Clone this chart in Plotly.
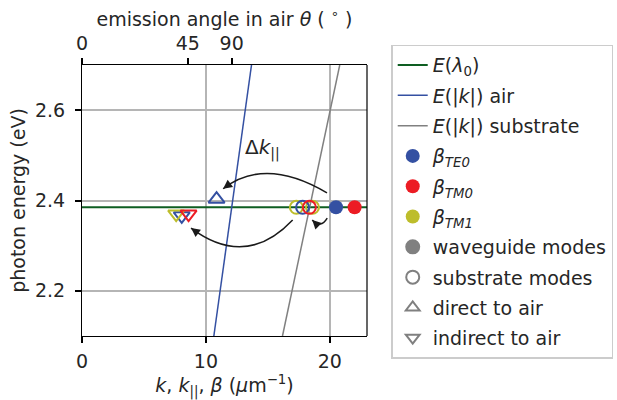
import plotly.graph_objects as go

# ---------------- data ----------------
E_range = [2.1, 2.7]                 # photon energy limits of dispersion lines (eV)
k_air = [10.64, 13.68]               # E(|k|) in air at E_range
k_sub = [16.18, 20.80]               # E(|k|) in substrate at E_range
E0 = 2.385                           # emission energy E(lambda0)
k_line = [0, 23]
k0 = 12.08                           # free-space wavevector (for top axis)

wg_TE0_k, wg_TM0_k = [20.5], [22.0]  # waveguide modes (filled)
wg_TM1_k = []                        # not visible
sub_TE0_k, sub_TM0_k, sub_TM1_k = [17.8], [18.35], [17.3, 18.6]   # substrate modes (open)
direct_TE0 = ([10.86], [2.403])      # direct to air (up triangle)
ind_TM1 = ([7.6], [2.370])           # indirect to air (down triangles)
ind_TE0 = ([8.05], [2.366])
ind_TM0 = ([8.6], [2.370])

top_ticks_deg = [0, 45, 90]
top_tickvals = [0, k0 * 0.7071, k0]

# curved arrows: (start, control, end) in data coords
arrows = [
    ((19.77, 2.417), (14.78, 2.498), (11.39, 2.426)),
    ((17.00, 2.357), (13.25, 2.248), (8.80, 2.339)),
    ((19.79, 2.361), (19.26, 2.337), (18.58, 2.357)),
]
arrow_tail_px = [(8, -6), (8, 6), (7, 7)]

GREEN = "#0e5e22"
BLUE = "#3450a2"
RED = "#ec1c24"
YEL = "#bdbd2b"
GRAY = "#808080"
TXT = "#262626"
FS = 19

fig = go.Figure()
# lines
fig.add_trace(go.Scatter(x=k_line, y=[E0, E0], mode="lines", line=dict(color=GREEN, width=2),
                         name="<i>E</i>(<i>λ</i><sub>0</sub>)", legendgroup="a"))
fig.add_trace(go.Scatter(x=k_air, y=E_range, mode="lines", line=dict(color=BLUE, width=1.5),
                         name="<i>E</i>(|<i>k</i>|) air", legendgroup="b"))
fig.add_trace(go.Scatter(x=k_sub, y=E_range, mode="lines", line=dict(color=GRAY, width=1.5),
                         name="<i>E</i>(|<i>k</i>|) substrate", legendgroup="c"))

# open (substrate) modes
for ks, col in [(sub_TM1_k, YEL), (sub_TE0_k, BLUE), (sub_TM0_k, RED)]:
    fig.add_trace(go.Scatter(x=ks, y=[E0] * len(ks), mode="markers", showlegend=False,
                             marker=dict(symbol="circle-open", size=13, color=col, line=dict(width=2))))
# triangles
fig.add_trace(go.Scatter(x=direct_TE0[0], y=direct_TE0[1], mode="markers", showlegend=False,
                         marker=dict(symbol="triangle-up-open", size=14, color=BLUE, line=dict(width=2))))
for (kx, ey), col in [(ind_TE0, BLUE), (ind_TM1, YEL), (ind_TM0, RED)]:
    fig.add_trace(go.Scatter(x=kx, y=ey, mode="markers", showlegend=False,
                             marker=dict(symbol="triangle-down-open", size=14, color=col, line=dict(width=2))))

# filled waveguide modes (legend)
for ks, col, nm, g in [(wg_TE0_k, BLUE, "<i>β</i><sub><i>TE0</i></sub>", "d"),
                       (wg_TM0_k, RED, "<i>β</i><sub><i>TM0</i></sub>", "e"),
                       (wg_TM1_k, YEL, "<i>β</i><sub><i>TM1</i></sub>", "f")]:
    fig.add_trace(go.Scatter(x=ks if ks else [None], y=[E0] * len(ks) if ks else [None],
                             mode="markers", name=nm, legendgroup=g,
                             marker=dict(symbol="circle", size=14, color=col)))

# legend-only gray entries
for sym, nm, g in [("circle", "waveguide modes", "g"), ("circle-open", "substrate modes", "h"),
                   ("triangle-up-open", "direct to air", "i"), ("triangle-down-open", "indirect to air", "j")]:
    fig.add_trace(go.Scatter(x=[None], y=[None], mode="markers", name=nm, legendgroup=g,
                             marker=dict(symbol=sym, size=12 if "triangle" in sym else 13, color=GRAY,
                                         line=dict(width=2, color=GRAY))))

# dummy for top axis
fig.add_trace(go.Scatter(x=[None], y=[None], xaxis="x2", showlegend=False))

# arrows
for (p0, c, p2), (tx, ty) in zip(arrows, arrow_tail_px):
    fig.add_shape(type="path", xref="x", yref="y",
                  path=f"M {p0[0]},{p0[1]} Q {c[0]},{c[1]} {p2[0]},{p2[1]}",
                  line=dict(color="#1a1a1a", width=1.5))
    fig.add_annotation(x=p2[0], y=p2[1], xref="x", yref="y", text="", showarrow=True,
                       ax=tx, ay=ty, arrowhead=2, arrowsize=1.2, arrowwidth=1.5, arrowcolor="#1a1a1a")

fig.add_annotation(x=14.6, y=2.516, xref="x", yref="y", text="Δ<i>k</i><sub>||</sub>",
                   showarrow=False, font=dict(size=20, color=TXT))

axis_common = dict(showline=True, linecolor="black", linewidth=1.2, mirror=False,
                   ticks="outside", ticklen=6, tickwidth=1.5, tickcolor="black",
                   tickfont=dict(size=FS, color=TXT), zeroline=False)

fig.update_layout(
    width=617, height=400,
    margin=dict(l=82, r=250, t=65, b=64, autoexpand=False),
    paper_bgcolor="white", plot_bgcolor="white",
    font=dict(family="DejaVu Sans", color=TXT, size=FS),
    xaxis=dict(range=[0, 23], tickvals=[0, 10, 20], showgrid=True, gridcolor="#b5b5b5", gridwidth=1.5,
               ticklabelstandoff=2,
               title=dict(text="<i>k</i>, <i>k</i><sub>||</sub>, <i>β</i> (<i>μ</i>m<sup>−1</sup>)",
                          font=dict(size=FS, color=TXT), standoff=9),
               **axis_common),
    xaxis2=dict(range=[0, 23], overlaying="x", side="top", anchor="y", tickvals=top_tickvals,
                ticktext=[str(t) for t in top_ticks_deg], showgrid=False,
                title=dict(text="emission angle in air <i>θ</i> ( <sup>∘</sup> )", font=dict(size=FS, color=TXT),
                           standoff=0),
                **axis_common),
    yaxis=dict(range=[2.1, 2.7], tickvals=[2.2, 2.4, 2.6], tickformat=".1f", showgrid=True,
               gridcolor="#b5b5b5", gridwidth=1.5, ticklabelstandoff=6,
               title=dict(text="photon energy (eV)", font=dict(size=FS, color=TXT), standoff=4),
               **axis_common),
    legend=dict(x=1.085, y=1.075, xanchor="left", yanchor="top", bgcolor="white",
                bordercolor="#cccccc", borderwidth=1.5, font=dict(size=FS, color=TXT),
                tracegroupgap=2.6, traceorder="grouped", maxheight=400),
    showlegend=True,
)
# right spine
fig.add_shape(type="line", xref="paper", yref="paper", x0=1, x1=1, y0=0, y1=1,
              line=dict(color="black", width=1.2))

fig.write_html("out.html")
